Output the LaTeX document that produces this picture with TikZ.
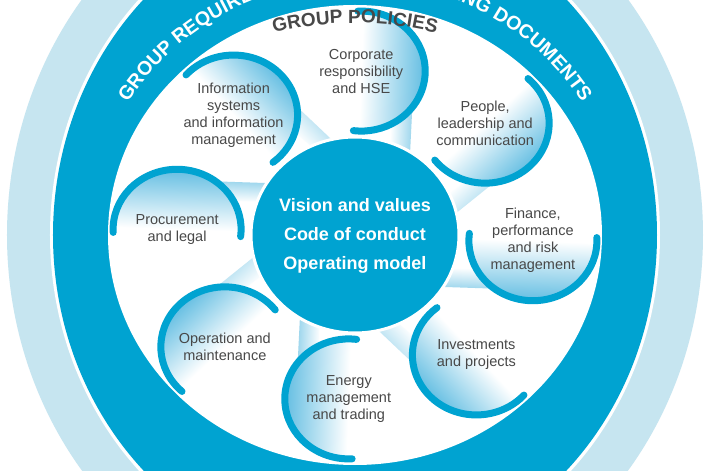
\documentclass[tikz,border=0pt]{standalone}
\usepackage{fontspec}
\setmainfont{Liberation Sans}
\usetikzlibrary{calc, decorations.text}

\definecolor{ringdark}{RGB}{0,163,209}
\definecolor{ringlight}{RGB}{198,229,240}
\definecolor{petalblue}{RGB}{100,190,226}
\definecolor{labelgray}{RGB}{72,72,72}

\newcommand\petallist{88/corp/{Corporate\\responsibility\\and HSE},
    43/people/{People{,}\\leadership and\\communication},
    -2/finance/{Finance{,}\\performance\\and risk\\management},
    -47/invest/{Investments\\and projects},
    -92/energy/{Energy\\management\\and trading},
    -137/operate/{Operation and\\maintenance},
    -182/procure/{Procurement\\and legal},
    -227/infosys/{Information\\systems\\and information\\management}}

\begin{document}
\begin{tikzpicture}[
        x=1pt, y=1pt,
        petal/.style={top color=petalblue, bottom color=white, middle color=white},
        stem/.style={top color=petalblue!65, bottom color=white},
        rim/.style={draw=ringdark, line width=7pt, line cap=round},
        petaltxt/.style={text=labelgray, align=center, font=\fontsize{14.5}{17}\selectfont},
        hub/.style={text=white, align=center, font=\bfseries\fontsize{18}{29}\selectfont}
    ]
        \useasboundingbox (-355,-236) rectangle (355,235);
        \clip (-355,-236) rectangle (355,235);
        \fill[white] (-355,-236) rectangle (355,235);
        \fill[ringlight] (0,0) ellipse [x radius=348, y radius=380];
        \fill[white] (0,0) ellipse [x radius=305, y radius=334];
        \fill[ringdark] (0,0) ellipse [x radius=302, y radius=330];
        \fill[white] (0,0) ellipse [x radius=247, y radius=230];
        \path[decorate, decoration={text along path, text align=center, text color=white,
            text={|\bfseries\fontsize{19.5}{19.5}\selectfont|GROUP REQUIREMENTS AND GOVERNING DOCUMENTS}}]
            (165:266 and 254) arc[start angle=165, end angle=15, x radius=266, y radius=254];
        \foreach \ang/\nm/\txt in \petallist {
            \pgfmathsetmacro\sa{\ang-180}
            \coordinate (\nm) at (\ang:178 and 164);
            \shade[stem, shading angle=\sa] ($(\nm)+(\ang-150:64 and 60)$) -- ($(\nm)+(\ang-125:64 and 60)$)
                -- (\ang-30:104 and 98) -- (\ang-18:104 and 98) -- cycle;
        }
        \foreach \ang/\nm/\txt in \petallist {
            \pgfmathsetmacro\sa{\ang-180}
            \pgfmathsetmacro\aS{\ang+5}
            \pgfmathsetmacro\aE{\ang-185}
            \shade[petal, shading angle=\sa] (\nm) ellipse [x radius=64, y radius=60];
            \draw[rim] (\nm) ++(\aS:64 and 60) arc[start angle=\aS, end angle=\aE, x radius=64, y radius=60];
            \node[petaltxt] (txt\nm) at (\nm) {\txt};
        }
        \draw[fill=ringdark, draw=white, line width=3pt] (0,0) ellipse [x radius=104, y radius=98];
        \node[hub] (core) at (0,-1) {Vision and values\\Code of conduct\\Operating model};
        \path[decorate, decoration={text along path, text align=center, text color=labelgray,
            text={|\bfseries\fontsize{19}{19}\selectfont|GROUP POLICIES}}]
            (135:267 and 212) arc[start angle=135, end angle=45, x radius=267, y radius=212];
    \end{tikzpicture}
\end{document}
